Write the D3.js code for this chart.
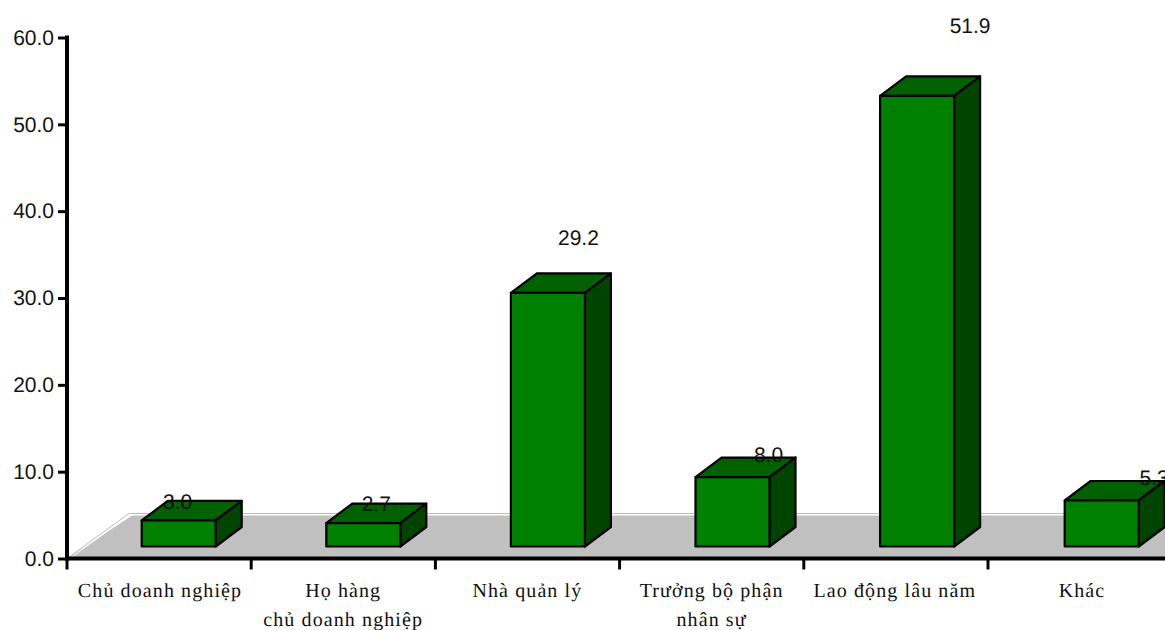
<!DOCTYPE html>
<html><head><meta charset="utf-8">
<script src="https://d3js.org/d3.v7.min.js"></script>
<style>html,body{margin:0;padding:0;background:#fff;overflow:hidden}svg{display:block}text{text-rendering:geometricPrecision}</style>
</head><body><div id="c"></div>
<script>
const categories = ["Chủ doanh nghiệp", "Họ hàng\nchủ doanh nghiệp", "Nhà quản lý", "Trưởng bộ phận\nnhân sự", "Lao động lâu năm", "Khác"];
const values = [3.0, 2.7, 29.2, 8.0, 51.9, 5.3];
const yTicks = [0, 10, 20, 30, 40, 50, 60];
const labelDx = [-1, 13, 30.5, 36, 53, 52.5];
const labelDy = [-11, -12, -48, -15.5, -63, -15];
const catDx = [93, 92, 92, 92, 91, 94];

const W = 1165, H = 630, X0 = 67, Y0 = 558.5, Y60 = 37.5, STEP = 184.2;
const BASE = 12, BARW = 74, BAR0 = 141.7, BARSTEP = 184.6, DX = 26, DY = 19.5;

const svg = d3.select("#c").append("svg").attr("width", W).attr("height", H);
const x = d3.scaleBand().domain(categories).range([X0, X0 + STEP * categories.length]);
const xBar = d3.scaleBand().domain(categories).range([BAR0, BAR0 + BARSTEP * categories.length]);
const y = d3.scaleLinear().domain([0, 60]).range([Y0, Y60]);

// floor
svg.append("path").attr("d", `M${X0},${Y0}L${X0 + 65},${Y0 - 43}L${W},${Y0 - 43}L${W},${Y0}Z`)
  .attr("fill", "#c0c0c0");
svg.append("path").attr("d", `M${X0 + 2},${Y0 - 1.5}L${X0 + 62},${Y0 - 45}L${W},${Y0 - 45}`)
  .attr("fill", "none").attr("stroke", "#bdbdbd").attr("stroke-width", 1);
svg.append("path").attr("d", `M${X0 + 4},${Y0 - 1}L${X0 + 63.5},${Y0 - 44}L${W},${Y0 - 44}`)
  .attr("fill", "none").attr("stroke", "#fff").attr("stroke-width", 1);

// bars
const g = svg.append("g").selectAll("g").data(values).join("g");
const L = (d, i) => xBar(categories[i]);
const T = d => y(d) - BASE;
const B = y(0) - BASE;
const common = s => s.attr("stroke", "#000").attr("stroke-width", 2.2).attr("stroke-linejoin", "round");
g.append("path").call(common).attr("fill", "#006100")
  .attr("d", (d, i) => { const l = L(d, i), t = T(d); return `M${l},${t}L${l + DX},${t - DY}L${l + BARW + DX},${t - DY}L${l + BARW},${t}Z`; });
g.append("path").call(common).attr("fill", "#004400")
  .attr("d", (d, i) => { const r = L(d, i) + BARW, t = T(d); return `M${r},${t}L${r + DX},${t - DY}L${r + DX},${B - DY}L${r},${B}Z`; });
g.append("rect").call(common).attr("fill", "#008000")
  .attr("x", L).attr("y", T).attr("width", BARW).attr("height", d => B - T(d));

// value labels
svg.append("g").selectAll("text").data(values).join("text")
  .attr("x", (d, i) => L(d, i) + BARW / 2 + labelDx[i])
  .attr("y", (d, i) => T(d) + labelDy[i])
  .attr("text-anchor", "middle").attr("font-family", "Liberation Sans").attr("font-size", 21).attr("fill", "#111")
  .text(d => d.toFixed(1));

// y axis
const yAxis = svg.append("g").attr("transform", `translate(${X0},0)`)
  .call(d3.axisLeft(y).tickValues(yTicks).tickFormat(d3.format(".1f")).tickSize(9).tickSizeOuter(0));
yAxis.select(".domain").attr("stroke", "#000").attr("stroke-width", 4).attr("d", `M0,${Y60 - 2}V${Y0 + 2}`);
yAxis.selectAll(".tick line").attr("stroke", "#000").attr("stroke-width", 3);
yAxis.selectAll(".tick text").attr("font-family", "Liberation Sans").attr("font-size", 21).attr("fill", "#111").attr("x", -13);

// x axis
const xAxis = svg.append("g").attr("transform", `translate(0,${Y0})`)
  .call(d3.axisBottom(x).tickValues(categories).tickFormat("").tickSize(0).tickSizeOuter(0));
xAxis.select(".domain").attr("stroke", "#000").attr("stroke-width", 4).attr("d", `M${X0 - 2},0H${W}`);
xAxis.selectAll(".tick").attr("transform", d => `translate(${x(d)},0)`);
xAxis.selectAll(".tick line").attr("y2", 11).attr("stroke", "#000").attr("stroke-width", 3);
xAxis.selectAll(".tick text").remove();

// category labels
categories.forEach((c, i) => {
  c.split("\n").forEach((line, k) => {
    svg.append("text")
      .attr("x", x(c) + catDx[i]).attr("y", 597 + k * 29)
      .attr("text-anchor", "middle").attr("font-family", "Liberation Serif").attr("font-size", 20)
      .attr("letter-spacing", 1.1).attr("fill", "#111").text(line);
  });
});
</script></body></html>
